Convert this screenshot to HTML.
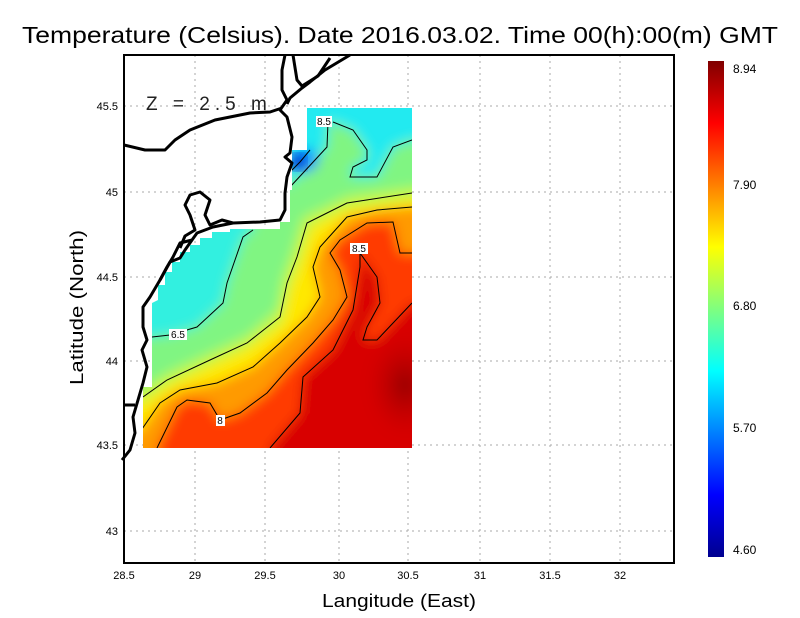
<!DOCTYPE html>
<html><head><meta charset="utf-8"><style>
html,body{margin:0;padding:0;background:#fff;}
svg{display:block;font-family:"Liberation Sans",sans-serif;}
</style></head><body>
<svg width="800" height="618" viewBox="0 0 800 618" xmlns="http://www.w3.org/2000/svg">
<defs>
<clipPath id="dc"><polygon points="307,108 412,108 412,448 143,448 143,387 152,387 152,303 158,300 158,285 165,285 165,272 172,272 172,262 180,262 180,252 190,252 190,245 200,245 200,238 212,238 212,232 230,232 230,229 280,229 280,222 290,222 290,190 292,190 292,150 307,150"/></clipPath>
<filter id="bl" x="-20%" y="-20%" width="140%" height="140%"><feGaussianBlur stdDeviation="6"/></filter>
<linearGradient id="jet" x1="0" y1="1" x2="0" y2="0">
<stop offset="0" stop-color="#00008f"/><stop offset="0.125" stop-color="#0000ff"/><stop offset="0.375" stop-color="#00ffff"/><stop offset="0.625" stop-color="#ffff00"/><stop offset="0.875" stop-color="#ff0000"/><stop offset="1" stop-color="#800000"/>
</linearGradient>
<radialGradient id="deep" cx="0.5" cy="0.5" r="0.5"><stop offset="0" stop-color="#960000"/><stop offset="1" stop-color="#c80000" stop-opacity="0"/></radialGradient>
</defs>
<text x="22" y="43" font-size="23" fill="#000" textLength="756" lengthAdjust="spacingAndGlyphs">Temperature (Celsius). Date 2016.03.02. Time 00(h):00(m)  GMT</text>
<g stroke="#aaa" stroke-dasharray="2,4" stroke-width="1">
<line x1="195" y1="55" x2="195" y2="563"/><line x1="265" y1="55" x2="265" y2="563"/><line x1="339" y1="55" x2="339" y2="563"/><line x1="408" y1="55" x2="408" y2="563"/><line x1="480" y1="55" x2="480" y2="563"/><line x1="550" y1="55" x2="550" y2="563"/><line x1="620" y1="55" x2="620" y2="563"/>
<line x1="124" y1="106" x2="674" y2="106"/><line x1="124" y1="192" x2="674" y2="192"/><line x1="124" y1="277" x2="674" y2="277"/><line x1="124" y1="361" x2="674" y2="361"/><line x1="124" y1="445" x2="674" y2="445"/><line x1="124" y1="531" x2="674" y2="531"/>
</g>
<g clip-path="url(#dc)">
<g filter="url(#bl)">
<rect x="100" y="80" width="340" height="400" fill="#80f582"/>
<polygon fill="#30f0e0" points="110,345 152,337 170,335 197,327 223,303 227,283 243,237 253,230 253,200 110,200"/>
<polygon fill="#20eaf0" points="285,187 303,173 327,147 328,122 333,122 353,130 367,150 367,160 353,167 350,177 377,177 393,147 412,140 440,140 440,80 285,80"/>
<polygon fill="#c8f840" points="110,380 143,390 167,374 210,354 247,337 278,310 283,280 293,252 303,218 327,207 347,197 412,188 440,188 440,480 110,480"/>
<polygon fill="#ffe800" points="110,400 143,404 167,386 210,366 247,349 282,323 291,286 301,260 311,228 329,218 349,209 412,200 440,200 440,480 110,480"/>
<polygon fill="#ff9a00" points="110,432 140,432 160,403 180,390 217,383 253,367 280,343 307,317 320,297 313,267 320,247 347,217 377,210 412,207 440,207 440,480 110,480"/>
<polygon fill="#ff3a00" points="157,448 177,407 187,400 210,403 220,420 240,413 267,393 287,370 313,343 333,320 347,297 340,270 330,253 340,240 367,223 393,222 400,253 412,253 440,253 440,480 157,480"/>
<polygon fill="#d80000" points="270,448 300,413 303,377 333,350 353,310 360,267 360,253 377,277 380,303 367,327 363,340 377,340 412,303 440,303 440,480 270,480"/>
<ellipse cx="405" cy="385" rx="40" ry="55" fill="url(#deep)"/>
<ellipse cx="304" cy="160" rx="14" ry="12" fill="#0090ff"/>
</g>
<ellipse cx="298" cy="162" rx="7" ry="7" fill="#0018c0" filter="url(#bl)" opacity="0.9"/>
<g fill="none" stroke="#000" stroke-width="1">
<polyline points="140,340 152,337 170,335 197,327 223,303 227,283 243,237 253,230"/>
<polyline points="143,397 167,380 210,360 247,343 280,317 287,283 297,257 307,223 327,213 347,203 412,193"/>
<polyline points="140,432 160,403 180,390 217,383 253,367 280,343 307,317 320,297 313,267 320,247 347,217 377,210 412,207"/>
<polyline points="157,448 177,407 187,400 210,403 220,420 240,413 267,393 287,370 313,343 333,320 347,297 340,270 330,253 340,240 367,223 393,222 400,253 412,253"/>
<polyline points="270,448 300,413 303,377 333,350 353,310 360,267 360,253 377,277 380,303 367,327 363,340 377,340 412,303"/>
<polyline points="290,187 303,173 327,147 328,122"/>
<polyline points="333,122 353,130 367,150 367,160 353,167 350,177 377,177 393,147 412,140"/>
<polyline points="290,172 300,162 310,150"/>
</g>
</g>
<g font-size="10" text-anchor="middle">
<rect x="316" y="116" width="16" height="11" fill="#fff"/><text x="324" y="125">8.5</text>
<rect x="350" y="243" width="18" height="11" fill="#fff"/><text x="359" y="252">8.5</text>
<rect x="169" y="329" width="18" height="11" fill="#fff"/><text x="178" y="338">6.5</text>
<rect x="216" y="415" width="9" height="11" fill="#fff"/><text x="220" y="424">8</text>
</g>
<g fill="none" stroke="#000" stroke-width="3" stroke-linejoin="round">
<polyline points="285,55 282,70 282,90 287,100 280,110 287,117 292,137 290,153 285,157 292,163 287,177 285,193 285,210 280,220 260,222 233,223 213,227 197,233 192,240 180,243 173,257 167,267 160,280 150,297 143,307 143,327 147,340 142,350 147,367 143,383 138,400 133,417 135,433 130,450 122,460"/>
<polyline points="350,55 325,70 310,82 302,88 290,98 287,104"/>
<polyline points="124,145 145,150 165,150 175,140 190,130 215,120 250,113 270,112 282,108"/>
<polyline points="293,55 297,80 302,86 318,76 330,58"/>
<polyline points="180,248 185,236 195,230 190,215 185,205 190,195 200,192 210,200 205,215 210,225 222,220 233,223"/>
<polyline points="160,280 170,262 180,258 185,250 192,240"/>
<polyline points="124,405 135,405"/>
</g>
<rect x="124" y="55" width="550" height="508" fill="none" stroke="#000" stroke-width="2"/>
<text x="146" y="110" font-size="19" fill="#222" letter-spacing="5">Z = 2.5 m</text>
<g font-size="11" text-anchor="middle">
<text x="124" y="579">28.5</text><text x="195" y="579">29</text><text x="265" y="579">29.5</text><text x="339" y="579">30</text><text x="408" y="579">30.5</text><text x="480" y="579">31</text><text x="550" y="579">31.5</text><text x="620" y="579">32</text>
</g>
<g font-size="11" text-anchor="end">
<text x="118" y="110">45.5</text><text x="118" y="196">45</text><text x="118" y="281">44.5</text><text x="118" y="365">44</text><text x="118" y="449">43.5</text><text x="118" y="535">43</text>
</g>
<text x="322" y="607" font-size="18" textLength="154" lengthAdjust="spacingAndGlyphs">Langitude (East)</text>
<text transform="translate(83,385) rotate(-90)" font-size="18" textLength="155" lengthAdjust="spacingAndGlyphs">Latitude (North)</text>
<rect x="708" y="61" width="16" height="496" fill="url(#jet)"/>
<g font-size="12">
<text x="733" y="73">8.94</text><text x="733" y="189">7.90</text><text x="733" y="310">6.80</text><text x="733" y="432">5.70</text><text x="733" y="554">4.60</text>
</g>
</svg>
</body></html>
